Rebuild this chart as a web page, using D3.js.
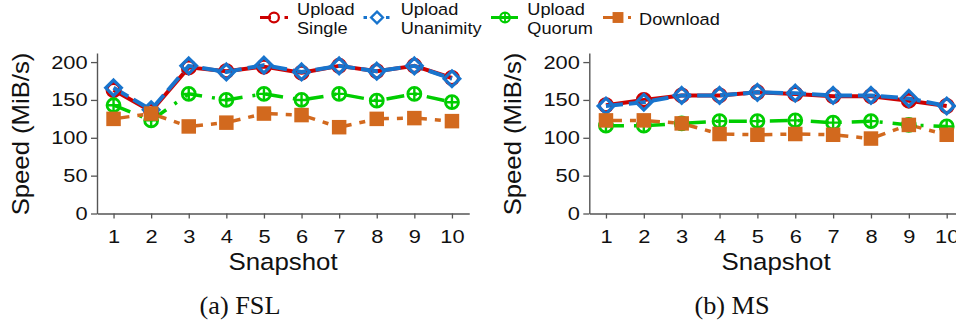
<!DOCTYPE html>
<html>
<head>
<meta charset="utf-8">
<script src="https://cdn.jsdelivr.net/npm/d3@7"></script>
<style>
  body { margin: 0; background: #fff; }
  svg { display: block; }
</style>
</head>
<body>
<svg id="chart" width="956" height="322"></svg>
<script>
// Snapshot indices and axis ticks
const snapshots = [1, 2, 3, 4, 5, 6, 7, 8, 9, 10];
const yTicks = [0, 50, 100, 150, 200];
const seriesLabels = [["Upload", "Single"], ["Upload", "Unanimity"], ["Upload", "Quorum"], ["Download"]];

// FSL trace (MiB/s)
const fslSingle    = [163, 135, 193, 188, 194, 186, 195, 188, 195, 179];
const fslUnanimity = [166, 137, 195, 187, 196, 187, 195, 188, 195, 178];
const fslQuorum    = [143, 123, 158, 150, 158, 150, 158, 149, 158, 147];
const fslDownload  = [125, 132, 115, 120, 132, 130, 114, 125, 126, 122];

// MS trace (MiB/s)
const msSingle    = [143, 150, 156, 156, 160, 158, 155, 155, 149, 142];
const msUnanimity = [142, 147, 156, 156, 160, 159, 156, 156, 152, 142];
const msQuorum    = [116, 116, 119, 122, 122, 123, 120, 122, 117, 115];
const msDownload  = [123, 123, 119, 105, 104, 105, 104, 99, 117, 104];

const SANS = "'Liberation Sans', Arial, Helvetica, sans-serif";
const SERIF = "'Liberation Serif', 'Times New Roman', serif";
const AXIS_COLOR = "#555";

const styles = [
  { color: "#CD0000", dash: null,           width: 4,   shape: "circle" },
  { color: "#1874CD", dash: "17,6",         width: 4,   shape: "diamond" },
  { color: "#00CD00", dash: "18,10,3,10",   width: 3.5, shape: "oplus" },
  { color: "#D2691E", dash: "16,8,6,8",     width: 3.5, shape: "square" }
];

const svg = d3.select("#chart");

function drawMarker(g, shape, color, k) {
  if (shape === "circle") {
    g.append("circle").attr("r", 6.5 * k).attr("fill", "none")
      .attr("stroke", color).attr("stroke-width", 3 * k);
  } else if (shape === "diamond") {
    const h = 7.8 * k;
    g.append("path").attr("d", `M0,${-h}L${h},0L0,${h}L${-h},0Z`)
      .attr("fill", "none").attr("stroke", color).attr("stroke-width", 3.2 * k)
      .attr("stroke-linejoin", "miter");
  } else if (shape === "oplus") {
    const r = 6.5 * k;
    g.append("circle").attr("r", r).attr("fill", "none")
      .attr("stroke", color).attr("stroke-width", 2.8 * k);
    g.append("path").attr("d", `M${-r},0H${r}M0,${-r}V${r}`)
      .attr("stroke", color).attr("stroke-width", 2.4 * k);
  } else if (shape === "square") {
    const s = 14.5 * k;
    g.append("rect").attr("x", -s / 2).attr("y", -s / 2)
      .attr("width", s).attr("height", s).attr("fill", color);
  }
}

function drawPanel(p) {
  const x = d3.scaleLinear().domain([0.56, 10.46]).range([p.left, p.left + 9.9 * p.step]);
  const y = d3.scaleLinear().domain([0, 212]).range([213.5, 53]);

  // axes
  const gx = svg.append("g").attr("transform", `translate(0,${y(0)})`)
    .call(d3.axisBottom(x).tickValues(snapshots).tickFormat(d3.format("d"))
      .tickSize(5).tickPadding(11).tickSizeOuter(0));
  const gy = svg.append("g").attr("transform", `translate(${p.left},0)`)
    .call(d3.axisLeft(y).tickValues(yTicks).tickSize(6).tickPadding(2).tickSizeOuter(0));

  [gx, gy].forEach(g => {
    g.select(".domain").attr("stroke", AXIS_COLOR).attr("stroke-width", 1.4);
    g.selectAll(".tick line").attr("stroke", AXIS_COLOR).attr("stroke-width", 1.3);
    g.selectAll(".tick text").attr("fill", "#111")
      .style("font-family", SANS).style("font-size", "18.5px")
      .attr("transform", "scale(1.18,1)");
  });

  // lines
  const line = d3.line().x((d, i) => x(snapshots[i])).y(d => y(d));
  p.series.forEach((vals, si) => {
    const st = styles[si];
    svg.append("path").datum(vals).attr("d", line)
      .attr("fill", "none").attr("stroke", st.color).attr("stroke-width", st.width)
      .attr("stroke-dasharray", st.dash).attr("stroke-linejoin", "round");
  });

  // markers
  p.series.forEach((vals, si) => {
    const st = styles[si];
    vals.forEach((v, i) => {
      const g = svg.append("g").attr("transform", `translate(${x(snapshots[i])},${y(v)})`);
      drawMarker(g, st.shape, st.color, 1);
    });
  });

  // axis titles
  svg.append("text").text("Speed (MiB/s)")
    .attr("transform", `translate(${p.ylabelX},134) rotate(-90) scale(1.07,1)`)
    .attr("text-anchor", "middle").attr("fill", "#111")
    .style("font-family", SANS).style("font-size", "24px");
  svg.append("text").text("Snapshot")
    .attr("transform", `translate(${p.xlabelX},270) scale(1.1,1)`)
    .attr("text-anchor", "middle").attr("fill", "#111")
    .style("font-family", SANS).style("font-size", "23.5px");

  // caption
  svg.append("text").text(p.caption)
    .attr("transform", `translate(${p.captionX},314) scale(1.05,1)`)
    .attr("text-anchor", "middle").attr("fill", "#111")
    .style("font-family", SERIF).style("font-size", "25px");
}

drawPanel({ left: 97, step: 37.6, series: [fslSingle, fslUnanimity, fslQuorum, fslDownload],
  ylabelX: 29, xlabelX: 283, captionX: 240, caption: "(a) FSL" });
drawPanel({ left: 589.3, step: 37.86, series: [msSingle, msUnanimity, msQuorum, msDownload],
  ylabelX: 520.5, xlabelX: 776, captionX: 732, caption: "(b) MS" });

// legend
const legend = svg.append("g");
const ky = 17.5;
const keys = [
  { segs: [[260, 271], [284.5, 288]], marker: 274, textX: 297 },
  { segs: [[363.5, 367], [386, 389.5]], marker: 377, textX: 400.7 },
  { segs: [[491, 518]], marker: 505, textX: 527.3 },
  { segs: [[603, 613], [628, 631]], marker: 618, textX: 639 }
];
keys.forEach((k, si) => {
  const st = styles[si];
  k.segs.forEach(s => {
    legend.append("line").attr("x1", s[0]).attr("x2", s[1]).attr("y1", ky).attr("y2", ky)
      .attr("stroke", st.color).attr("stroke-width", 3);
  });
  const g = legend.append("g").attr("transform", `translate(${k.marker},${ky})`);
  drawMarker(g, st.shape, st.color, 0.75);
  const lines = seriesLabels[si];
  const baselines = lines.length === 2 ? [15, 33.5] : [24.5];
  lines.forEach((t, li) => {
    legend.append("text").text(t)
      .attr("transform", `translate(${k.textX},${baselines[li]}) scale(1.07,1)`)
      .attr("fill", "#111").style("font-family", SANS).style("font-size", "17px");
  });
});
</script>
</body>
</html>
